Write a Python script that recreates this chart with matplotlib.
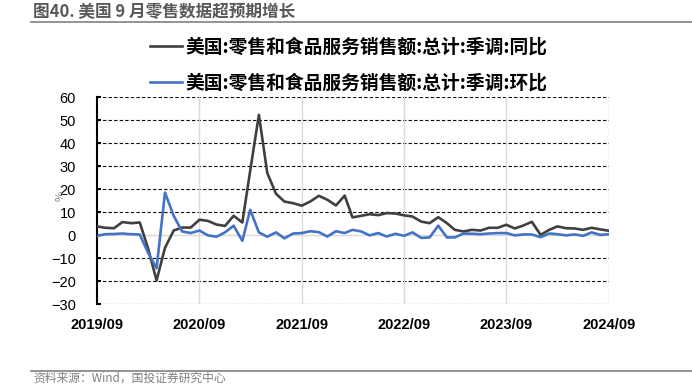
import pandas as pd
import matplotlib
matplotlib.use("Agg")
import matplotlib.pyplot as plt
import matplotlib.dates as mdates

plt.rcParams['font.family'] = ['Noto Sans CJK SC', 'DejaVu Sans']
plt.rcParams['axes.unicode_minus'] = True

# monthly, 2019/09 .. 2024/09
start_month = "2019-09-01"
yoy = [3.8, 3.2, 3.0, 5.7, 5.2, 5.5, -5.5, -19.7, -5.5, 2.0,
       3.3, 3.3, 6.7, 6.2, 4.6, 4.0, 8.4, 5.5, 28.0, 52.3,
       27.0, 18.0, 14.6, 13.9, 12.8, 14.6, 17.1, 15.4, 12.9, 17.2,
       7.7, 8.4, 9.1, 8.7, 9.6, 9.4, 8.6, 8.1, 5.9, 5.2,
       7.8, 5.2, 2.3, 1.6, 2.3, 2.0, 3.2, 3.2, 4.5, 2.9,
       4.2, 5.8, 0.1, 2.3, 3.8, 3.0, 2.9, 2.3, 3.2, 2.5,
       1.9]
mom = [-0.3, 0.4, 0.5, 0.7, 0.4, 0.3, -7.5, -14.4, 18.5, 8.4,
       1.6, 0.9, 2.0, -0.1, -0.7, 1.2, 4.1, -2.5, 11.0, 1.2,
       -0.7, 1.2, -1.4, 0.7, 0.9, 1.7, 1.3, -0.6, 1.7, 0.9,
       2.3, 1.6, -0.1, 0.9, -0.6, 0.6, -0.3, 1.2, -1.2, -1.0,
       4.1, -1.0, -1.0, 0.7, 0.6, 0.4, 0.7, 0.9, 0.9, -0.1,
       0.3, 0.3, -0.9, 0.7, 0.4, -0.1, 0.3, -0.3, 1.2, 0.1,
       0.4]
label_yoy = "美国:零售和食品服务销售额:总计:季调:同比"
label_mom = "美国:零售和食品服务销售额:总计:季调:环比"
y_ticks = [60, 50, 40, 30, 20, 10, 0, -10, -20, -30]
title = "图40. 美国 9 月零售数据超预期增长"
source = "资料来源：Wind，国投证券研究中心"

dates = pd.date_range(start_month, periods=len(yoy), freq="MS")
year_ticks = pd.date_range(start_month, periods=6, freq="12MS")

fig = plt.figure(figsize=(6.92, 3.84), dpi=100)
ax = fig.add_axes([0.140, 0.208, 0.740, 0.539])

ax.plot(dates, yoy, color="#404040", lw=1.9, label=label_yoy, zorder=3)
ax.plot(dates, mom, color="#4472C4", lw=1.9, label=label_mom, zorder=3)

ax.set_xlim(dates[0], dates[-1])
ax.set_ylim(-30, 60)
ax.set_yticks(y_ticks)
ax.set_xticks(year_ticks)
ax.xaxis.set_major_formatter(mdates.DateFormatter("%Y/%m"))

# grid: dashed black horizontals, light gray verticals
for v in y_ticks:
    if v == 0:
        ax.axhline(0, color="#d9d9d9", lw=1.0, zorder=1)
    else:
        ax.axhline(v, color="black", lw=0.8, ls=(0, (3, 2)), zorder=1)
for d in year_ticks[1:]:
    ax.axvline(d, color="#d9d9d9", lw=1.0, zorder=1)

for s in ["top", "right", "bottom"]:
    ax.spines[s].set_visible(False)
ax.spines["left"].set_linewidth(1.5)
ax.spines["left"].set_color("black")

ax.tick_params(axis="y", direction="in", length=3, width=1.5, pad=15)
ax.tick_params(axis="x", length=0, pad=10)
for t in ax.get_yticklabels():
    t.set_fontfamily(["Liberation Sans", "DejaVu Sans"])
    t.set_fontsize(10.5)
for t in ax.get_xticklabels():
    t.set_fontfamily(["Liberation Sans", "DejaVu Sans"])
    t.set_fontsize(10.5)
    t.set_fontweight("bold")

fig.text(0.087, 0.49, "%", rotation=90, color="#808080", fontsize=8,
         ha="center", va="center")

fig.legend(loc="upper left", bbox_to_anchor=(0.2168, 0.902), frameon=False,
           prop={"size": 13.5, "weight": "bold"}, handlelength=1.7,
           handletextpad=0.2, labelspacing=0.9, borderpad=0, borderaxespad=0)

# title and rules
fig.text(0.048, 0.968, title, color="#595959", fontsize=12, ha="left", va="center",
         fontweight="bold")
fig.add_artist(plt.Line2D([0.045, 1.0], [0.943, 0.943], color="#808080", lw=1.2))
fig.add_artist(plt.Line2D([0.045, 1.0], [0.034, 0.034], color="#808080", lw=1.2))
fig.text(0.048, 0.016, source, color="#808080", fontsize=8.5, ha="left", va="center")

fig.savefig("out.png", dpi=100)
